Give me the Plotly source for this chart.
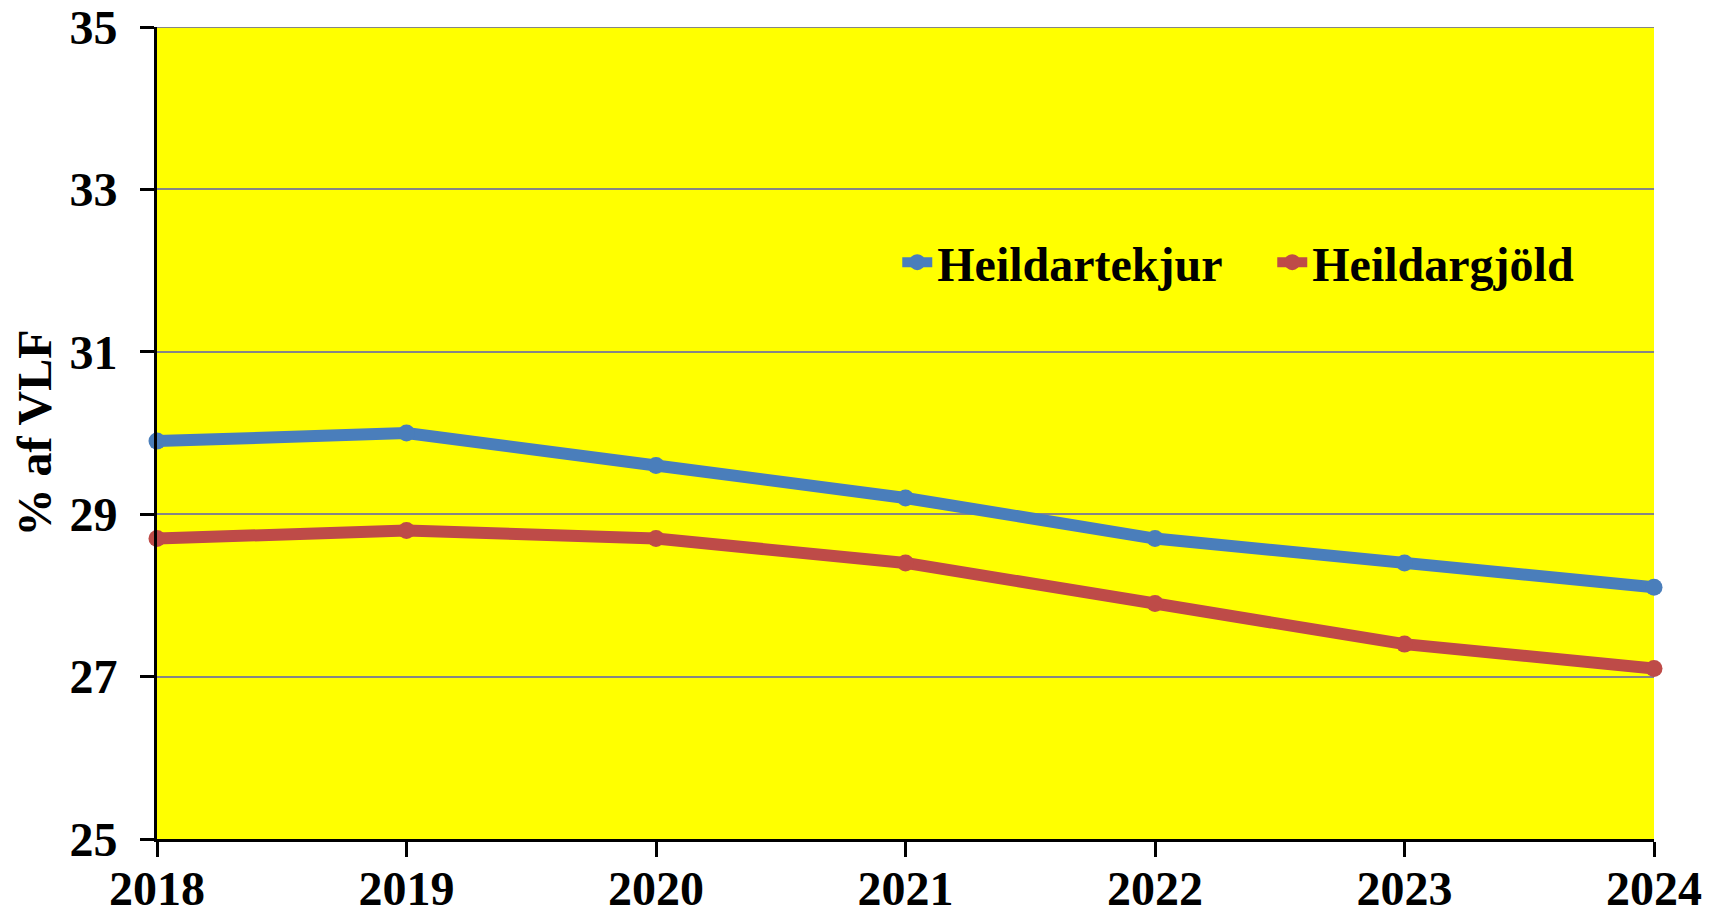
import plotly.graph_objects as go

years = [2018, 2019, 2020, 2021, 2022, 2023, 2024]
tekjur = [29.9, 30.0, 29.6, 29.2, 28.7, 28.4, 28.1]
gjold = [28.7, 28.8, 28.7, 28.4, 27.9, 27.4, 27.1]
series_names = ["Heildartekjur", "Heildargjöld"]
y_ticks = [25, 27, 29, 31, 33, 35]

FONT = "Liberation Serif"
fig = go.Figure()
fig.add_trace(go.Scatter(x=years, y=tekjur, name=series_names[0], mode="lines+markers",
                         line=dict(color="#4A7EBB", width=12), cliponaxis=False,
                         marker=dict(color="#4A7EBB", size=17)))
fig.add_trace(go.Scatter(x=years, y=gjold, name=series_names[1], mode="lines+markers",
                         line=dict(color="#BE4B48", width=12), cliponaxis=False,
                         marker=dict(color="#BE4B48", size=17)))

fig.update_layout(
    width=1715, height=909,
    margin=dict(l=149, r=69, t=19, b=78),
    paper_bgcolor="white", plot_bgcolor="#FFFF00",
    font=dict(family=FONT, size=48, color="black"),
    showlegend=True,
    legend=dict(orientation="h", x=0.4945, y=0.71, xanchor="left", yanchor="middle",
                bgcolor="rgba(0,0,0,0)", font=dict(family=FONT, size=48, color="black", weight="bold"),
                itemwidth=30, entrywidth=330, entrywidthmode="pixels"),
    shapes=[dict(type="line", xref="paper", yref="y", x0=0, x1=1, y0=y_ticks[-1], y1=y_ticks[-1],
                 line=dict(color="#868686", width=2), layer="below")],
)
fig.update_xaxes(range=[2018, 2024], tickmode="array", tickvals=years,
                 ticktext=[str(y) for y in years],
                 showgrid=False, showline=True, linecolor="black", linewidth=3,
                 ticks="outside", ticklen=15, tickwidth=3, tickcolor="black",
                 tickfont=dict(family=FONT, size=48, weight="bold"), ticklabelstandoff=-10,
                 ticklabeloverflow="allow",
                 zeroline=False, automargin=False)
fig.update_yaxes(range=[25, 35], tickmode="array", tickvals=y_ticks,
                 showgrid=True, gridcolor="#868686", gridwidth=2,
                 showline=True, linecolor="black", linewidth=3,
                 ticks="outside", ticklen=14, tickwidth=3, tickcolor="black",
                 tickfont=dict(family=FONT, size=48, weight="bold"), ticklabelstandoff=13,
                 ticklabeloverflow="allow",
                 title=dict(text="% af VLF", font=dict(family=FONT, size=48, weight="bold"), standoff=8),
                 zeroline=False, automargin=False)

fig.write_html("out.html")
